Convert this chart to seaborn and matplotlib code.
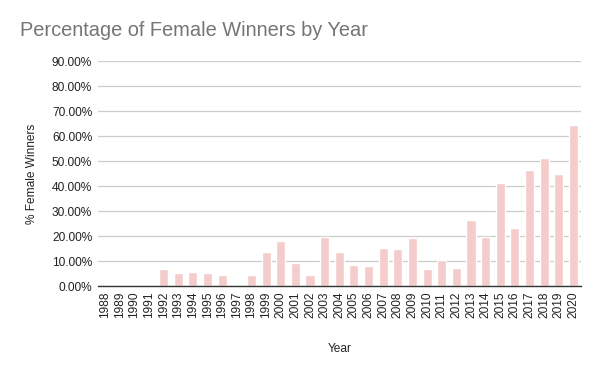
import pandas as pd
import matplotlib
matplotlib.use("Agg")
import matplotlib.pyplot as plt
import matplotlib.ticker as mticker
import seaborn as sns

years = [str(y) for y in range(1988, 2021)]
pct_female = [0.0, 0.0, 0.0, 0.0, 6.9, 5.3, 5.9, 5.3, 4.5, 0.0,
              4.5, 13.9, 18.1, 9.3, 4.5, 19.9, 13.9, 8.5, 8.1, 15.3,
              14.9, 19.3, 6.9, 10.5, 7.3, 26.5, 19.7, 41.3, 23.3, 46.5,
              51.3, 44.9, 64.5]

df = pd.DataFrame({"Year": years, "pct": [v / 100 for v in pct_female]})

sns.set_style("white")
plt.rcParams['font.family'] = ['Liberation Sans', 'DejaVu Sans']

fig = plt.figure(figsize=(6, 3.71), dpi=100)
ax = fig.add_axes([0.163, 0.228, 0.805, 0.607])

sns.barplot(data=df, x="Year", y="pct", color="#f4cccc", width=0.62,
            saturation=1, ax=ax)
for p in ax.patches:
    p.set_zorder(3)

ax.set_ylim(0, 0.9)
ax.set_xlim(-0.5, len(years) - 0.5)
ax.yaxis.set_major_locator(mticker.MultipleLocator(0.1))
ax.yaxis.set_major_formatter(mticker.FuncFormatter(lambda v, p: f"{v*100:.2f}%"))
ax.grid(axis="y", color="#cccccc", linewidth=0.9, zorder=0)
ax.set_axisbelow(True)
for s in ["top", "right", "left"]:
    ax.spines[s].set_visible(False)
ax.spines["bottom"].set_color("#333333")
ax.spines["bottom"].set_linewidth(1.0)
ax.spines["bottom"].set_zorder(4)
ax.tick_params(axis="both", length=0, labelsize=8.6, colors="#222222", pad=4)
ax.tick_params(axis="x", rotation=90, pad=4)

ax.set_xlabel("Year", fontsize=8.6, color="#222222", labelpad=18)
ax.set_ylabel("% Female Winners", fontsize=8.6, color="#222222", labelpad=10)

fig.text(0.033, 0.918, "Percentage of Female Winners by Year", fontsize=14.4,
         color="#757575", va="center", ha="left")

fig.savefig("out.png", dpi=100)
